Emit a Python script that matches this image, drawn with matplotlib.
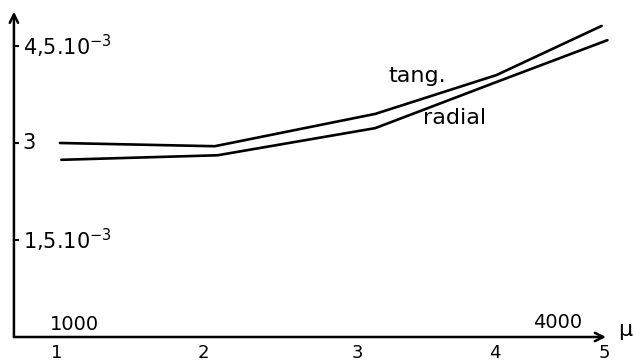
import matplotlib
matplotlib.use("Agg")
import matplotlib.pyplot as plt

# --- data (y in units of 1e-3) ---
x_tang = [1.02, 2.08, 3.18, 4.01, 4.73]
y_tang = [3.00, 2.95, 3.45, 4.05, 4.81]
x_radial = [1.03, 2.10, 3.18, 4.03, 4.77]
y_radial = [2.74, 2.81, 3.23, 3.96, 4.59]

x_tick_pos = [1.0, 2.0, 3.06, 4.0, 4.75]
x_tick_labels = ["1", "2", "3", "4", "5"]
y_tick_pos = [1.5, 3.0, 4.5]
y_tick_labels = ["1,5.10$^{-3}$", "3", "4,5.10$^{-3}$"]

fig = plt.figure(figsize=(6.34, 3.63), dpi=100)
ax = fig.add_axes([0, 0, 1, 1])
ax.set_xlim(0.6096, 4.952)
ax.set_ylim(-0.402, 5.211)
ax.axis("off")

lw = 1.9
ax.plot(x_tang, y_tang, color="black", lw=lw, solid_capstyle="round")
ax.plot(x_radial, y_radial, color="black", lw=lw, solid_capstyle="round")

x0, y0 = 0.705, 0.0
# axes with arrows
ax.annotate("", xy=(x0, 5.03), xytext=(x0, y0),
            arrowprops=dict(arrowstyle="->,head_length=0.6,head_width=0.3", lw=1.8, color="black",
                            shrinkA=0, shrinkB=0))
ax.annotate("", xy=(4.76, y0), xytext=(x0, y0),
            arrowprops=dict(arrowstyle="->,head_length=0.6,head_width=0.3", lw=1.8, color="black",
                            shrinkA=0, shrinkB=0))

fs = 14
for v, lab in zip(y_tick_pos, y_tick_labels):
    ax.plot([x0, x0 + 0.03], [v, v], color="black", lw=1.5)
    ax.text(x0 + 0.06, v, lab, fontsize=15, va="center", ha="left")

for p, lab in zip(x_tick_pos, x_tick_labels):
    ax.text(p, -0.24, lab, fontsize=13, va="center", ha="center")

ax.text(1.12, 0.2, "1000", fontsize=fs, va="center", ha="center")
ax.text(4.43, 0.23, "4000", fontsize=fs, va="center", ha="center")
ax.text(4.89, 0.11, "μ", fontsize=16, va="center", ha="center")

ax.text(3.47, 4.03, "tang.", fontsize=16, va="center", ha="center")
ax.text(3.72, 3.38, "radial", fontsize=16, va="center", ha="center")

fig.savefig("out.png", dpi=100)
